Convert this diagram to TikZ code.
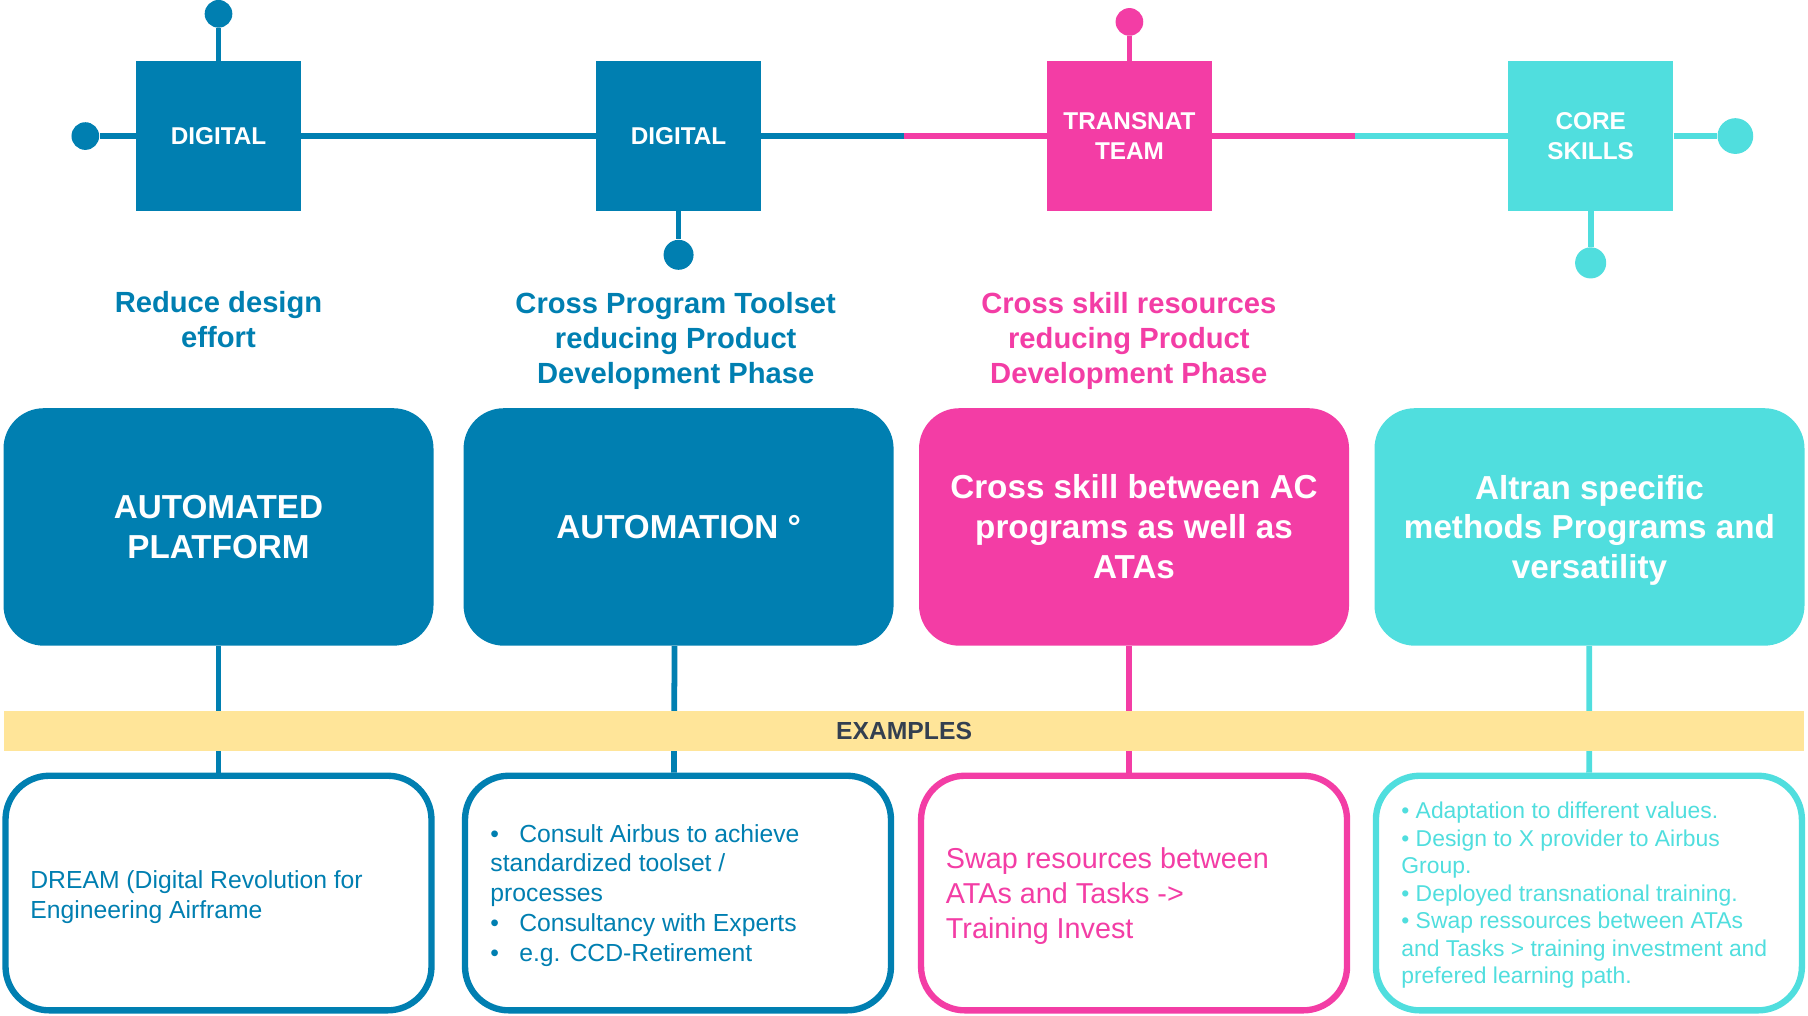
\documentclass[tikz,border=0pt]{standalone}
\usepackage{fontspec}
\setmainfont{Liberation Sans}
\definecolor{abl}{HTML}{007FB1}
\definecolor{apk}{HTML}{F33DA5}
\definecolor{acy}{HTML}{50DEDE}
\definecolor{ayl}{HTML}{FFE599}
\definecolor{adk}{HTML}{333F50}
\begin{document}
\begin{tikzpicture}[x=0.02cm,y=-0.02cm,
  ln/.style={draw=#1,line width=0.1cm},
  dot/.style 2 args={circle,fill=#1,inner sep=0,minimum size=#2},
  sq/.style={fill=#1,minimum width=2.86cm,minimum height=2.6cm,inner sep=0,text=white,align=center,font=\fontsize{12}{14.5}\selectfont\bfseries},
  sub/.style={text=#1,align=center,inner sep=0,anchor=north,font=\fontsize{14.4}{17.3}\selectfont\bfseries},
  big/.style={fill=#1,rounded corners=0.7cm,minimum width=7.46cm,minimum height=4.12cm,inner sep=0,text=white,align=center,font=\fontsize{16.4}{19.7}\selectfont\bfseries},
  ex/.style={draw=#1,line width=0.11cm,rounded corners=0.76cm,minimum width=7.39cm,minimum height=4.07cm,fill=white},
  extxt/.style={text=#1,align=left,inner sep=0,anchor=north west}]
\useasboundingbox (0,0) rectangle (1568,881);

% top row
\node [sq=abl] (sqA) at (189.5,118) {DIGITAL};
\node [sq=abl] (sqB) at (588.5,118) {DIGITAL};
\node [sq=apk] (sqC) at (979.5,118) {TRANSNAT\\TEAM};
\node [sq=acy] (sqD) at (1379.5,118) {CORE\\SKILLS};

\node [dot={abl}{0.48cm}] (dotL) at (74,118) {};
\node [dot={abl}{0.48cm}] (dotA) at (189.5,12) {};
\node [dot={abl}{0.52cm}] (dotB) at (588.5,221) {};
\node [dot={apk}{0.48cm}] (dotC) at (979.5,19) {};
\node [dot={acy}{0.62cm}] (dotR) at (1505,118) {};
\node [dot={acy}{0.54cm}] (dotD) at (1379.5,228) {};

\coordinate (mixBC) at (784,118);
\coordinate (mixCD) at (1175,118);

\draw [ln=abl] (dotL) -- (sqA);
\draw [ln=abl] (sqA) -- (sqB);
\draw [ln=abl] (sqB) -- (mixBC);
\draw [ln=apk] (mixBC) -- (sqC);
\draw [ln=apk] (sqC) -- (mixCD);
\draw [ln=acy] (mixCD) -- (sqD);
\draw [ln=acy] (sqD) -- (dotR);
\draw [ln=abl] (sqA) -- (dotA);
\draw [ln=abl] (sqB) -- (dotB);
\draw [ln=apk] (sqC) -- (dotC);
\draw [ln=acy] (sqD) -- (dotD);

\node [sub=abl] (subA) at (189.5,252.5) {Reduce design\\effort};
\node [sub=abl] (subB) at (586,253.5) {Cross Program Toolset\\reducing Product\\Development Phase};
\node [sub=apk] (subC) at (979,253.5) {Cross skill resources\\reducing Product\\Development Phase};

% main boxes
\node [big=abl] (bigA) at (189.5,457) {AUTOMATED\\PLATFORM};
\node [big=abl] (bigB) at (588.5,457) {AUTOMATION °};
\node [big=apk] (bigC) at (983.5,457) {Cross skill between AC\\programs as well as\\ATAs};
\node [big=acy] (bigD) at (1378.5,457) {Altran specific\\methods Programs and\\\raisebox{0pt}[\height][0pt]{versatility}};

% examples
\node [ex=abl] (botA) at (189.5,774.5) {};
\node [ex=abl] (botB) at (588,774.5) {};
\node [ex=apk] (botC) at (983.5,774.5) {};
\node [ex=acy] (botD) at (1378,774.5) {};

\draw [ln=abl] (bigA) -- (botA);
\draw [ln=abl] ([xshift=-0.07cm]bigB.south) -- ([xshift=-0.07cm]botB.north);
\draw [ln=apk] ([xshift=-0.09cm]bigC.south) -- ([xshift=-0.09cm]botC.north);
\draw [ln=acy] (bigD) -- (botD);

\node [fill=ayl,minimum width=31.24cm,minimum height=0.68cm,inner sep=0,text=adk,font=\fontsize{12.2}{14}\selectfont\bfseries] (band) at (784,634) {EXAMPLES};

\node [extxt=abl,font=\fontsize{12.2}{14.7}\selectfont] (txtA) at (26,754.5) {DREAM (Digital Revolution for\\Engineering Airframe};
\node [extxt=abl,font=\fontsize{12.2}{14.7}\selectfont] (txtB) at (425,714.5) {\makebox[0.5cm][l]{\textbullet}Consult Airbus to achieve\\standardized toolset /\\processes\\\makebox[0.5cm][l]{\textbullet}Consultancy with Experts\\\makebox[0.5cm][l]{\textbullet}e.g. CCD-Retirement};
\node [extxt=apk,font=\fontsize{14.2}{17.3}\selectfont] (txtC) at (820,735) {Swap resources between\\ATAs and Tasks ->\\Training Invest};
\node [extxt=acy,font=\fontsize{11.3}{13.6}\selectfont] (txtD) at (1215,695.2) {\textbullet{} Adaptation to different values.\\\textbullet{} Design to X provider to Airbus\\Group.\\\textbullet{} Deployed transnational training.\\\textbullet{} Swap ressources between ATAs\\and Tasks > training investment and\\prefered learning path.};
\end{tikzpicture}
\end{document}
